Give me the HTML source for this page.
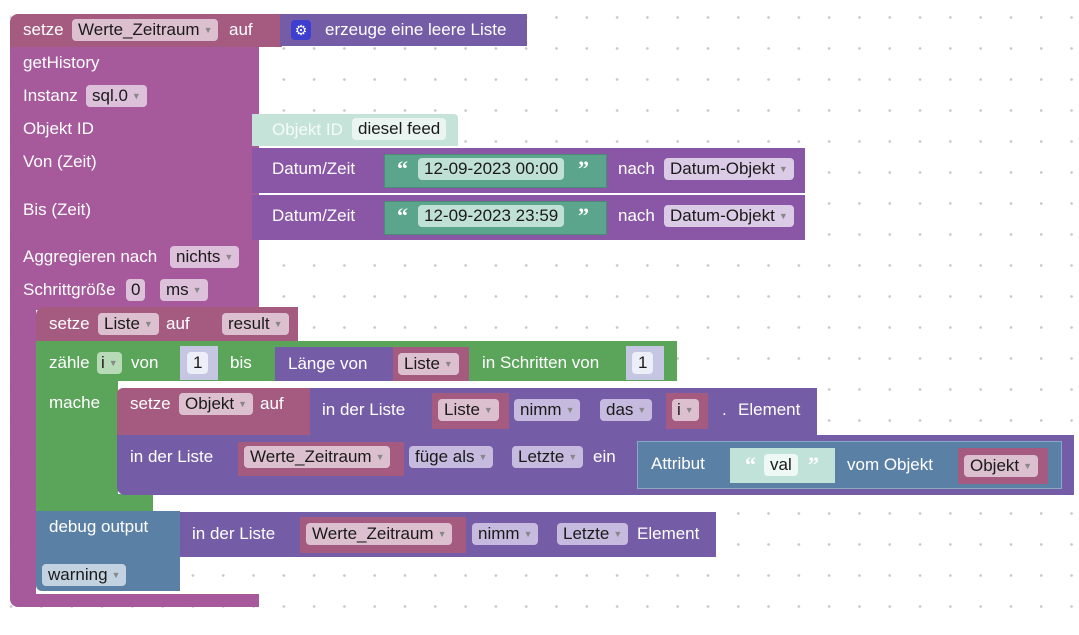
<!DOCTYPE html>
<html><head><meta charset="utf-8"><style>
body{margin:0;width:1079px;height:635px;overflow:hidden;background:#fff;
background-image:radial-gradient(circle,#c8c8c8 1.1px,transparent 1.6px);background-size:30.3px 31px;background-position:-4px 2px;
font-family:"Liberation Sans",sans-serif;position:relative}
.b{position:absolute}
.t{position:absolute;color:#fff;font-size:17px;line-height:20px;white-space:nowrap}
.f{position:absolute;height:22px;line-height:22px;border-radius:4px;background:rgba(255,255,255,.62);color:#1a1a1a;font-size:17px;padding:0 6px;white-space:nowrap}
.f i{font-style:normal;font-size:9px;color:#888;margin-left:4px;vertical-align:2px}
.q{position:absolute;color:#fff;font-size:22px;font-weight:bold;line-height:20px;font-family:"Liberation Serif",serif}
</style></head><body>
<!-- history body -->
<div class="b" style="left:10px;top:40px;width:249px;height:270px;background:#a6599b;border-radius:0 0 0 0"></div>
<div class="b" style="left:10px;top:300px;width:26px;height:303px;background:#a6599b;border-radius:0 0 0 8px"></div>
<div class="b" style="left:10px;top:594px;width:249px;height:13px;background:#a6599b;border-radius:0 0 0 8px"></div>
<!-- top setze -->
<div class="b" style="left:10px;top:14px;width:272px;height:33px;background:#a55b80;border-radius:8px 0 0 0"></div>
<div class="b" style="left:280px;top:14px;width:247px;height:32px;background:#745ca6"></div>
<div class="t" style="left:23px;top:20px">setze</div>
<div class="f" style="left:72px;top:19px">Werte_Zeitraum<i>▼</i></div>
<div class="t" style="left:229px;top:20px">auf</div>
<div class="b" style="left:291px;top:20px;width:20px;height:20px;border-radius:4px;background:#3f3fcf;color:#fff;font-size:14px;text-align:center;line-height:20px">⚙</div>
<div class="t" style="left:325px;top:20px">erzeuge eine leere Liste</div>
<!-- history labels -->
<div class="t" style="left:23px;top:53px">getHistory</div>
<div class="t" style="left:23px;top:86px">Instanz</div>
<div class="f" style="left:86px;top:85px">sql.0<i>▼</i></div>
<div class="t" style="left:23px;top:119px">Objekt ID</div>
<div class="t" style="left:23px;top:152px">Von (Zeit)</div>
<div class="t" style="left:23px;top:200px">Bis (Zeit)</div>
<div class="t" style="left:23px;top:247px">Aggregieren nach</div>
<div class="f" style="left:170px;top:246px">nichts<i>▼</i></div>
<div class="t" style="left:23px;top:280px">Schrittgröße</div>
<div class="f" style="left:126px;top:279px;padding:0 5px">0</div>
<div class="f" style="left:160px;top:279px">ms<i>▼</i></div>
<!-- objekt id -->
<div class="b" style="left:252px;top:114px;width:206px;height:32px;background:#c6e3da;border-radius:0 4px 0 0"></div>
<div class="t" style="left:272px;top:120px;color:#f4fbf8">Objekt ID</div>
<div class="f" style="left:352px;top:118px;background:#eaf5f1">diesel feed</div>
<!-- datum 1 -->
<div class="b" style="left:252px;top:148px;width:553px;height:45px;background:#8a56a6"></div>
<div class="t" style="left:272px;top:159px">Datum/Zeit</div>
<div class="b" style="left:384px;top:154px;width:223px;height:34px;background:#5ba58c;border:1px solid #4d8a78;box-sizing:border-box"></div>
<div class="q" style="left:397px;top:159px">“</div>
<div class="f" style="left:418px;top:158px;background:#bfe0d5">12-09-2023 00:00</div>
<div class="q" style="left:578px;top:159px">”</div>
<div class="t" style="left:618px;top:159px">nach</div>
<div class="f" style="left:664px;top:158px;background:#dccbe6">Datum-Objekt<i>▼</i></div>
<!-- datum 2 -->
<div class="b" style="left:252px;top:195px;width:553px;height:45px;background:#8a56a6"></div>
<div class="t" style="left:272px;top:206px">Datum/Zeit</div>
<div class="b" style="left:384px;top:201px;width:223px;height:34px;background:#5ba58c;border:1px solid #4d8a78;box-sizing:border-box"></div>
<div class="q" style="left:397px;top:206px">“</div>
<div class="f" style="left:418px;top:205px;background:#bfe0d5">12-09-2023 23:59</div>
<div class="q" style="left:578px;top:206px">”</div>
<div class="t" style="left:618px;top:206px">nach</div>
<div class="f" style="left:664px;top:205px;background:#dccbe6">Datum-Objekt<i>▼</i></div>
<!-- setze Liste -->
<div class="b" style="left:36px;top:307px;width:262px;height:34px;background:#a55b80;border-radius:8px 0 0 0"></div>
<div class="t" style="left:49px;top:314px">setze</div>
<div class="f" style="left:98px;top:313px">Liste<i>▼</i></div>
<div class="t" style="left:166px;top:314px">auf</div>
<div class="f" style="left:222px;top:313px">result<i>▼</i></div>
<!-- loop -->
<div class="b" style="left:36px;top:341px;width:641px;height:40px;background:#5ba55b"></div>
<div class="b" style="left:36px;top:380px;width:82px;height:130px;background:#5ba55b"></div>
<div class="b" style="left:36px;top:494px;width:117px;height:17px;background:#5ba55b"></div>
<div class="t" style="left:49px;top:353px">zähle</div>
<div class="f" style="left:97px;top:352px;padding:0 4px;background:#b7dbb7">i<i>▼</i></div>
<div class="t" style="left:131px;top:353px">von</div>
<div class="b" style="left:180px;top:346px;width:38px;height:34px;background:#c5c6e2"></div>
<div class="f" style="left:187px;top:352px;background:#eceef8">1</div>
<div class="t" style="left:230px;top:353px">bis</div>
<div class="b" style="left:275px;top:347px;width:193px;height:34px;background:#745ca6"></div>
<div class="t" style="left:288px;top:354px">Länge von</div>
<div class="b" style="left:393px;top:347px;width:76px;height:34px;background:#a55b80"></div>
<div class="f" style="left:398px;top:353px">Liste<i>▼</i></div>
<div class="t" style="left:482px;top:353px">in Schritten von</div>
<div class="b" style="left:626px;top:346px;width:38px;height:34px;background:#c5c6e2"></div>
<div class="f" style="left:632px;top:352px;background:#eceef8">1</div>
<div class="t" style="left:49px;top:393px">mache</div>
<!-- setze Objekt -->
<div class="b" style="left:117px;top:388px;width:194px;height:48px;background:#a55b80;border-radius:6px 0 0 0"></div>
<div class="b" style="left:310px;top:388px;width:507px;height:47px;background:#745ca6"></div>
<div class="t" style="left:130px;top:394px">setze</div>
<div class="f" style="left:179px;top:393px">Objekt<i>▼</i></div>
<div class="t" style="left:260px;top:394px">auf</div>
<div class="t" style="left:322px;top:400px">in der Liste</div>
<div class="b" style="left:432px;top:393px;width:77px;height:36px;background:#a55b80"></div>
<div class="f" style="left:438px;top:399px">Liste<i>▼</i></div>
<div class="f" style="left:514px;top:399px;background:#c7badf">nimm<i>▼</i></div>
<div class="f" style="left:600px;top:399px;background:#c7badf">das<i>▼</i></div>
<div class="b" style="left:666px;top:393px;width:42px;height:36px;background:#a55b80"></div>
<div class="f" style="left:672px;top:399px;padding:0 5px">i<i>▼</i></div>
<div class="t" style="left:722px;top:400px">.</div>
<div class="t" style="left:738px;top:400px">Element</div>
<!-- in der Liste füge -->
<div class="b" style="left:117px;top:435px;width:957px;height:60px;background:#745ca6;border-radius:0 0 0 8px"></div>
<div class="t" style="left:130px;top:447px">in der Liste</div>
<div class="b" style="left:238px;top:442px;width:166px;height:34px;background:#a55b80"></div>
<div class="f" style="left:244px;top:446px">Werte_Zeitraum<i>▼</i></div>
<div class="f" style="left:409px;top:446px;background:#c7badf">füge als<i>▼</i></div>
<div class="f" style="left:512px;top:446px;background:#c7badf">Letzte<i>▼</i></div>
<div class="t" style="left:593px;top:447px">ein</div>
<div class="b" style="left:637px;top:441px;width:425px;height:48px;background:#5b80a5;border:1px solid #8aa8c4;box-sizing:border-box"></div>
<div class="t" style="left:651px;top:454px">Attribut</div>
<div class="b" style="left:730px;top:448px;width:105px;height:35px;background:#c0e2d8"></div>
<div class="q" style="left:745px;top:455px">“</div>
<div class="f" style="left:764px;top:454px;background:#eef8f4">val</div>
<div class="q" style="left:808px;top:455px">”</div>
<div class="t" style="left:847px;top:455px">vom Objekt</div>
<div class="b" style="left:958px;top:448px;width:90px;height:36px;background:#a55b80"></div>
<div class="f" style="left:964px;top:455px">Objekt<i>▼</i></div>
<!-- debug -->
<div class="b" style="left:36px;top:511px;width:144px;height:80px;background:#5b80a5;border-radius:0 0 0 6px"></div>
<div class="t" style="left:49px;top:517px">debug output</div>
<div class="f" style="left:42px;top:564px;background:#c3d2e1">warning<i>▼</i></div>
<div class="b" style="left:180px;top:512px;width:536px;height:45px;background:#745ca6"></div>
<div class="t" style="left:192px;top:524px">in der Liste</div>
<div class="b" style="left:300px;top:517px;width:166px;height:36px;background:#a55b80"></div>
<div class="f" style="left:306px;top:523px">Werte_Zeitraum<i>▼</i></div>
<div class="f" style="left:472px;top:523px;background:#c7badf">nimm<i>▼</i></div>
<div class="f" style="left:557px;top:523px;background:#c7badf">Letzte<i>▼</i></div>
<div class="t" style="left:637px;top:524px">Element</div>
</body></html>
